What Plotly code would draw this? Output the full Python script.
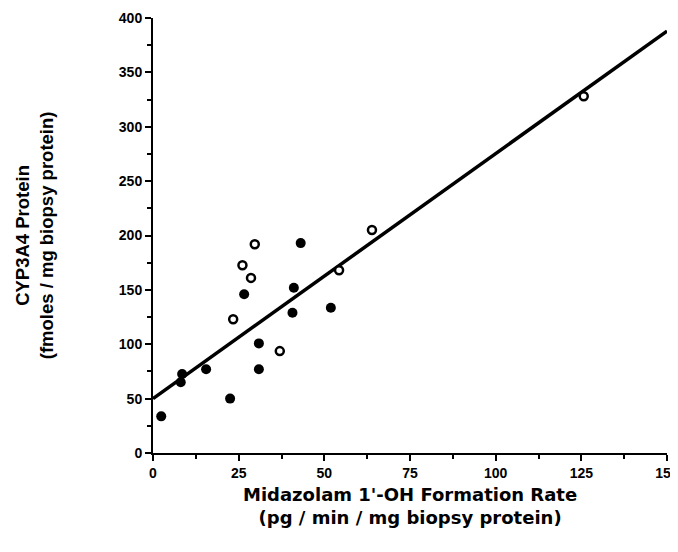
import plotly.graph_objects as go

# Data
open_x = [29.7, 26.1, 28.6, 23.4, 37.0, 54.3, 63.9, 125.7]
open_y = [192, 172.7, 161, 123, 93.7, 168, 205, 328]
filled_x = [43.1, 26.6, 41.1, 40.7, 51.9, 30.9, 30.9, 15.5, 8.5, 8.1, 22.5, 2.4]
filled_y = [193, 146, 152, 129, 133.5, 100.8, 77, 77, 72.6, 65, 50, 33.7]
fit_x = [0, 150]
fit_y = [50, 388]

x_ticks = [0, 25, 50, 75, 100, 125, 150]
y_ticks = [0, 50, 100, 150, 200, 250, 300, 350, 400]

x_title = "Midazolam 1'-OH Formation Rate<br>(pg / min / mg biopsy protein)"
y_title = "CYP3A4 Protein<br>(fmoles / mg biopsy protein)"

FONT = "Liberation Sans, Arial, sans-serif"
WIDE = "DejaVu Sans, Liberation Sans, sans-serif"

fig = go.Figure()
fig.add_trace(go.Scatter(x=fit_x, y=fit_y, mode="lines",
                         line=dict(color="black", width=3.5), showlegend=False,
                         cliponaxis=False))
fig.add_trace(go.Scatter(x=filled_x, y=filled_y, mode="markers",
                         marker=dict(color="black", size=10, symbol="circle"),
                         showlegend=False, cliponaxis=False))
fig.add_trace(go.Scatter(x=open_x, y=open_y, mode="markers",
                         marker=dict(color="white", size=8, symbol="circle",
                                     line=dict(color="black", width=2.5)),
                         showlegend=False, cliponaxis=False))

# page body has an 8px margin, so the figure is sized to fit the 678x552 window
fig.update_layout(
    width=670, height=544,
    margin=dict(l=145, r=11, t=10, b=99),
    paper_bgcolor="white", plot_bgcolor="white",
    font=dict(family=FONT, color="black"),
    annotations=[
        dict(text=x_title, xref="paper", yref="paper", x=0.5, y=-0.122,
             xanchor="center", yanchor="middle", showarrow=False,
             font=dict(size=18, family=WIDE, weight="bold", color="black")),
        dict(text=y_title, xref="paper", yref="paper", x=-0.23, y=0.5,
             xanchor="center", yanchor="middle", showarrow=False, textangle=-90,
             font=dict(size=18.5, family=FONT, weight="bold", color="black")),
    ],
)
fig.update_xaxes(
    range=[0, 150], tickvals=x_ticks, ticktext=[str(v) for v in x_ticks],
    automargin=False, ticklabeloverflow="allow",
    showgrid=False, zeroline=False, showline=True, linecolor="black", linewidth=2,
    ticks="outside", ticklen=6, tickwidth=2, tickcolor="black",
    minor=dict(ticks="outside", dtick=12.5, ticklen=4, tickwidth=2, tickcolor="black"),
    tickfont=dict(size=14, family=FONT, weight="bold"),
)
fig.update_yaxes(
    range=[0, 400], tickvals=y_ticks, ticktext=[str(v) for v in y_ticks],
    automargin=False, ticklabeloverflow="allow",
    showgrid=False, zeroline=False, showline=True, linecolor="black", linewidth=2,
    ticks="outside", ticklen=6, tickwidth=2, tickcolor="black",
    minor=dict(ticks="outside", dtick=25, ticklen=4, tickwidth=2, tickcolor="black"),
    tickfont=dict(size=14, family=FONT, weight="bold"),
)

fig.write_html("out.html")
